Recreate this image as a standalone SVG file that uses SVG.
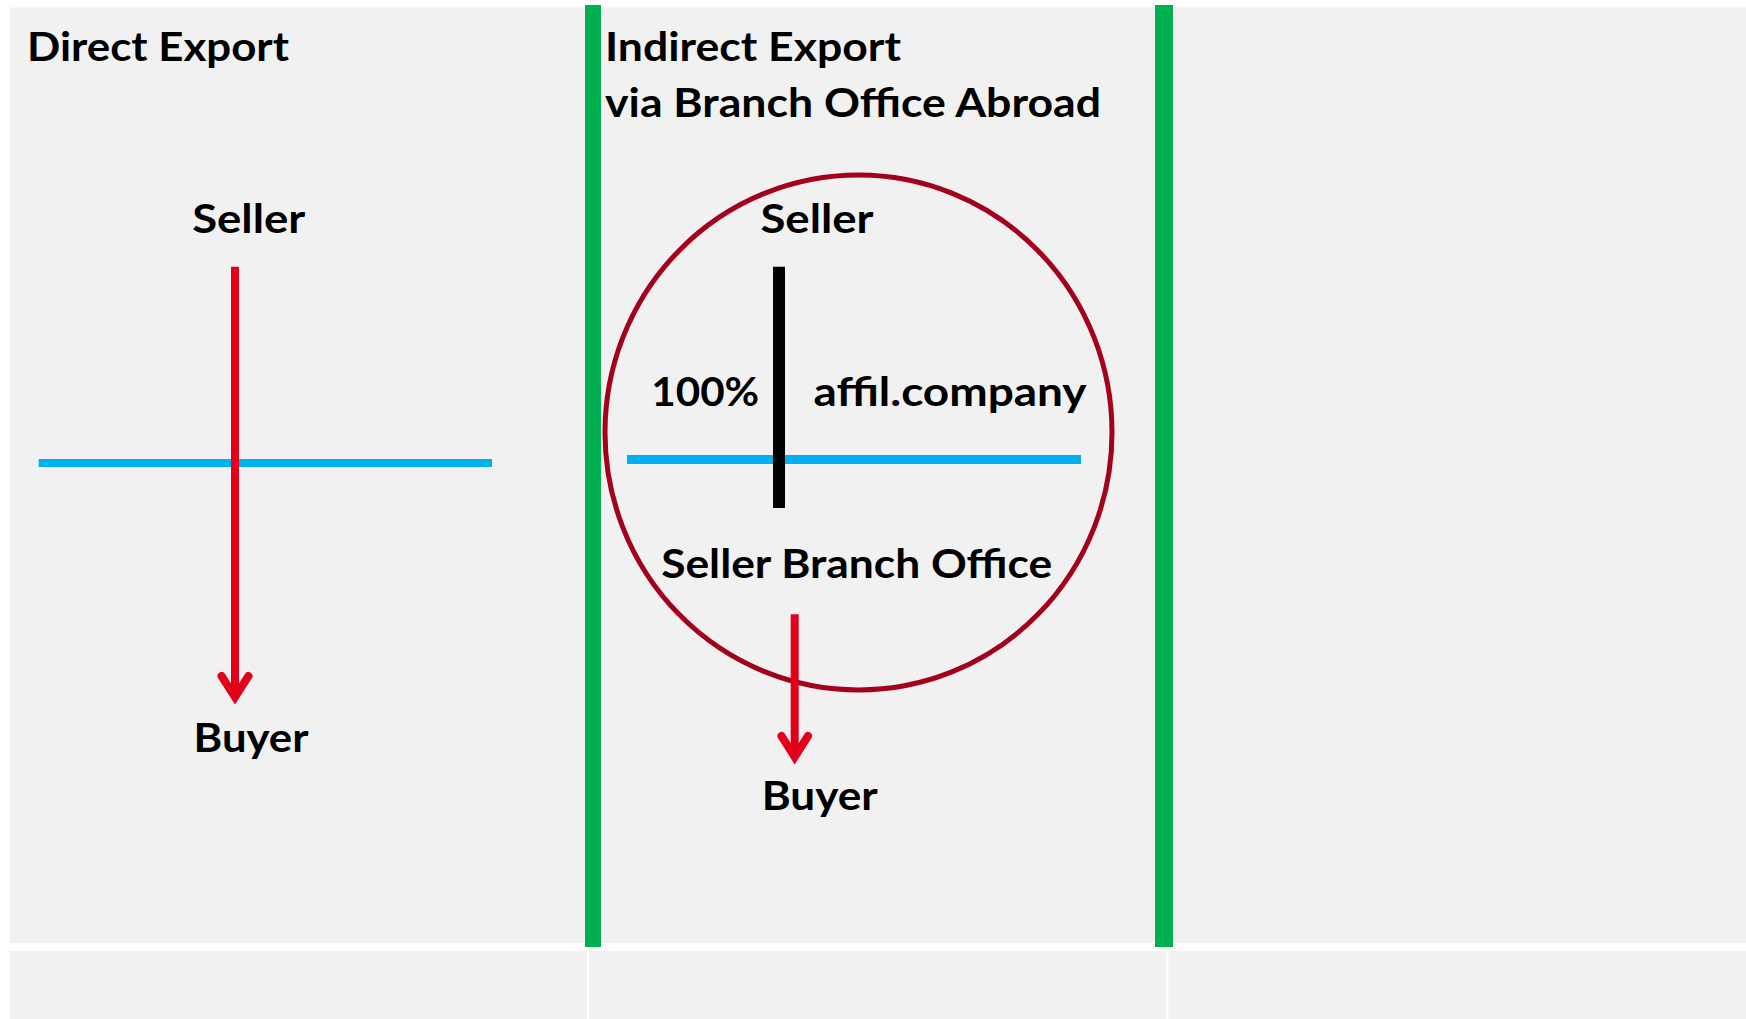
<svg xmlns="http://www.w3.org/2000/svg" width="1746" height="1019" viewBox="0 0 1746 1019">
<defs>
<style>
.t{font-family:Lato,"Open Sans","Liberation Sans",sans-serif;font-weight:bold;font-size:41px;fill:#000}
.red{stroke:#e3001b;stroke-width:8;fill:none}
.blue{stroke:#00b0f0;fill:none}
.green{stroke:#00b050;fill:none}
</style>
</defs>
<rect x="0" y="0" width="1746" height="1019" fill="#ffffff"/>
<g id="background">
<rect x="10" y="7.5" width="1736" height="935.5" fill="#f1f1f1"/>
<rect x="10" y="951" width="1736" height="68" fill="#f1f1f1"/>
<rect x="587" y="951" width="2" height="68" fill="#ffffff"/>
<rect x="1166" y="951" width="2.5" height="68" fill="#ffffff"/>
</g>
<g id="dividers">
<line class="green" x1="593" y1="5" x2="593" y2="947" stroke-width="16"/>
<line class="green" x1="1164" y1="5" x2="1164" y2="947" stroke-width="18"/>
</g>
<g id="title-direct">
<text class="t" x="27" y="61" textLength="262" lengthAdjust="spacingAndGlyphs">Direct Export</text>
</g>
<g id="title-indirect">
<text class="t" x="605" y="61" textLength="296" lengthAdjust="spacingAndGlyphs">Indirect Export</text>
<text class="t" x="605" y="117" textLength="496" lengthAdjust="spacingAndGlyphs">via Branch Office Abroad</text>
</g>
<g id="branch-circle">
<ellipse cx="858.5" cy="432.5" rx="253.5" ry="257.5" fill="none" stroke="#a3001c" stroke-width="5"/>
</g>
<g id="seller-left">
<text class="t" x="248.7" y="233" text-anchor="middle" textLength="113" lengthAdjust="spacingAndGlyphs">Seller</text>
</g>
<g id="buyer-left">
<text class="t" x="251" y="752" text-anchor="middle" textLength="115" lengthAdjust="spacingAndGlyphs">Buyer</text>
</g>
<g id="seller-right">
<text class="t" x="817" y="233.3" text-anchor="middle" textLength="113" lengthAdjust="spacingAndGlyphs">Seller</text>
</g>
<g id="share-label">
<text class="t" x="705.2" y="405.7" text-anchor="middle" textLength="108" lengthAdjust="spacingAndGlyphs">100%</text>
</g>
<g id="affil-label">
<text class="t" x="950" y="405.7" text-anchor="middle" textLength="273" lengthAdjust="spacingAndGlyphs">affil.company</text>
</g>
<g id="seller-branch">
<text class="t" x="856.7" y="578" text-anchor="middle" textLength="391" lengthAdjust="spacingAndGlyphs">Seller Branch Office</text>
</g>
<g id="buyer-right">
<text class="t" x="819.7" y="810" text-anchor="middle" textLength="116" lengthAdjust="spacingAndGlyphs">Buyer</text>
</g>
<g id="connectors">
<line class="blue" x1="38.7" y1="463" x2="492" y2="463" stroke-width="8"/>
<line class="blue" x1="627" y1="459.5" x2="1081" y2="459.5" stroke-width="9"/>
<line x1="779" y1="266.7" x2="779" y2="508" stroke="#000" stroke-width="12"/>
<line class="red" x1="235" y1="266.7" x2="235" y2="692"/>
<path class="red" d="M221.5,676 L235,697 L248.5,676" stroke-linecap="round" stroke-linejoin="miter"/>
<line class="red" x1="794.7" y1="614.3" x2="794.7" y2="752"/>
<path class="red" d="M781.5,736 L794.7,757 L808,736" stroke-linecap="round" stroke-linejoin="miter"/>
</g>
</svg>
